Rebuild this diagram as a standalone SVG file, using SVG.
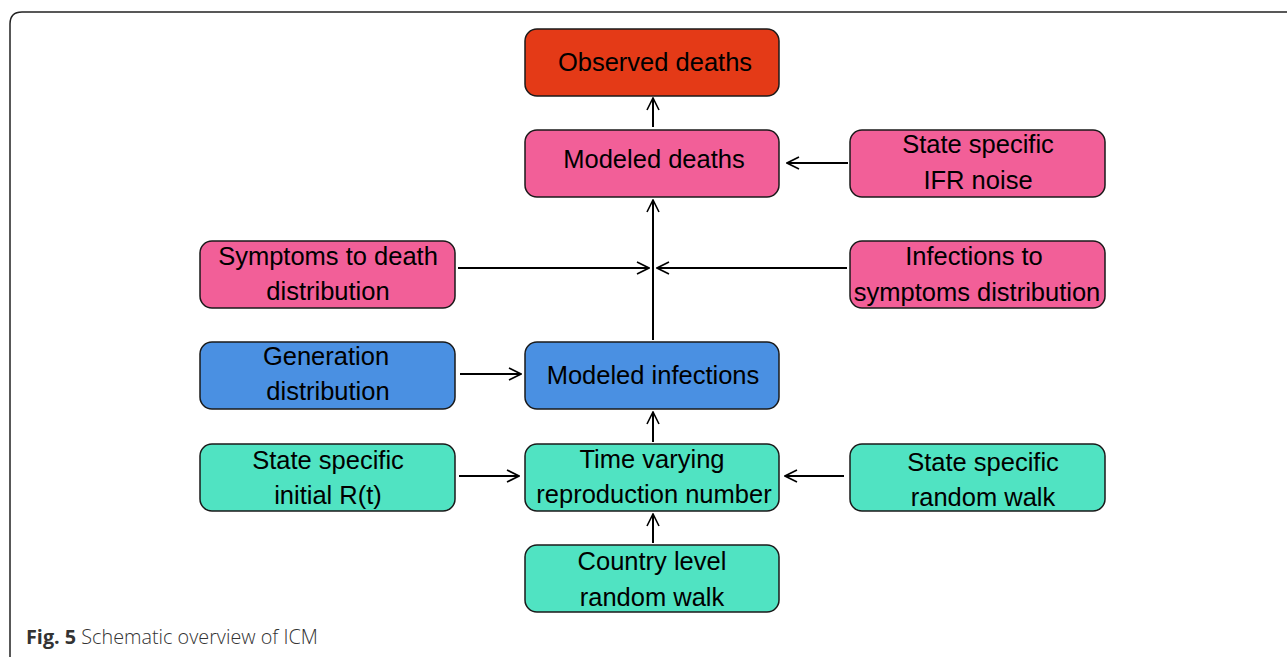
<svg xmlns="http://www.w3.org/2000/svg" width="1287" height="657" viewBox="0 0 1287 657">
<defs>
<marker id="arr" viewBox="0 0 14 14" refX="13" refY="7" markerWidth="14" markerHeight="14" markerUnits="userSpaceOnUse" orient="auto">
<path d="M1,1 L13,7 L1,13" fill="none" stroke="#000" stroke-width="1.6"/>
</marker>
</defs>
<style>
.box{stroke:#1a1a1a;stroke-width:1.5}
.red{fill:#E43A17}
.pink{fill:#F25F98}
.blue{fill:#4A90E2}
.teal{fill:#50E3C2}
text.t{font-family:"Liberation Sans",Arial,sans-serif;font-size:25.5px;fill:#000;text-anchor:middle}
.c{stroke:#000;stroke-width:2;fill:none;marker-end:url(#arr)}
</style>
<rect width="1287" height="657" fill="#fff"/>
<path d="M10,660 L10,24 Q10,12 22,12 L1290,12" fill="none" stroke="#222" stroke-width="1.5"/>
<g id="observed"><rect class="box red" x="525" y="29" width="254" height="67" rx="12"/><text class="t" x="655" y="71">Observed deaths</text></g>
<g id="modeled-deaths"><rect class="box pink" x="525" y="130" width="254" height="67" rx="12"/><text class="t" x="654" y="168">Modeled deaths</text></g>
<g id="ifr"><rect class="box pink" x="850" y="130" width="255" height="67" rx="12"/><text class="t" x="978" y="153">State specific</text><text class="t" x="978" y="189">IFR noise</text></g>
<g id="s2d"><rect class="box pink" x="200" y="241" width="255" height="67" rx="12"/><text class="t" x="328" y="265">Symptoms to death</text><text class="t" x="328" y="300">distribution</text></g>
<g id="i2s"><rect class="box pink" x="850" y="241" width="255" height="67" rx="12"/><text class="t" x="974" y="265">Infections to</text><text class="t" x="977" y="301">symptoms distribution</text></g>
<g id="gen"><rect class="box blue" x="200" y="342" width="255" height="67" rx="12"/><text class="t" x="326" y="365">Generation</text><text class="t" x="328" y="400">distribution</text></g>
<g id="modeled-infections"><rect class="box blue" x="525" y="342" width="254" height="67" rx="12"/><text class="t" x="653" y="384">Modeled infections</text></g>
<g id="initR"><rect class="box teal" x="200" y="444" width="255" height="67" rx="12"/><text class="t" x="328" y="469">State specific</text><text class="t" x="328" y="504">initial R(t)</text></g>
<g id="rt"><rect class="box teal" x="525" y="444" width="254" height="67" rx="12"/><text class="t" x="652" y="468">Time varying</text><text class="t" x="654" y="503">reproduction number</text></g>
<g id="srw"><rect class="box teal" x="850" y="444" width="255" height="67" rx="12"/><text class="t" x="983" y="471">State specific</text><text class="t" x="983" y="506">random walk</text></g>
<g id="crw"><rect class="box teal" x="525" y="545" width="254" height="67" rx="12"/><text class="t" x="652" y="570">Country level</text><text class="t" x="652" y="606">random walk</text></g>
<g id="connectors">
<line class="c" x1="653" y1="127" x2="653" y2="98"/>
<line class="c" x1="848" y1="163" x2="787" y2="163"/>
<line class="c" x1="653" y1="340" x2="653" y2="200"/>
<line class="c" x1="458" y1="268" x2="649" y2="268"/>
<line class="c" x1="847" y1="268" x2="657" y2="268"/>
<line class="c" x1="460" y1="374" x2="521" y2="374"/>
<line class="c" x1="653" y1="442" x2="653" y2="412"/>
<line class="c" x1="459" y1="476" x2="519" y2="476"/>
<line class="c" x1="844" y1="476" x2="785" y2="476"/>
<line class="c" x1="653" y1="543" x2="653" y2="514"/>
</g>
<text x="26" y="644" font-family="'Open Sans',sans-serif" font-size="19.8" fill="#333"><tspan font-weight="bold">Fig. 5</tspan> <tspan font-weight="300">Schematic overview of ICM</tspan></text>
</svg>
